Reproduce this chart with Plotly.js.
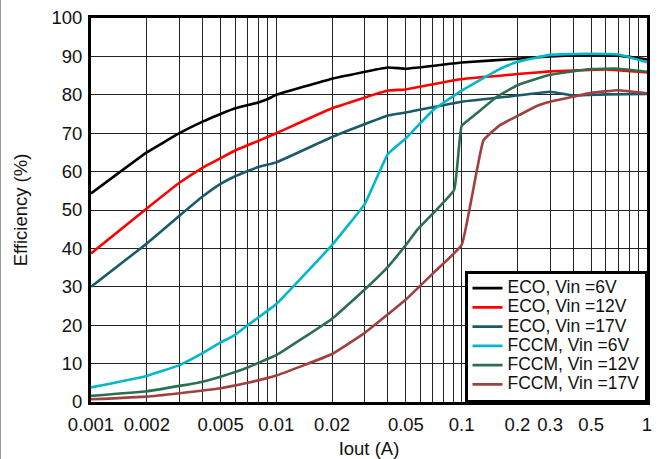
<!DOCTYPE html>
<html>
<head>
<meta charset="utf-8">
<script src="https://cdn.plot.ly/plotly-3.0.1.min.js"></script>
<style>
  html, body { margin: 0; padding: 0; background: #fff; }
  #chart { width: 663px; height: 459px; position: relative; }
  #edge { position: absolute; left: 0; top: 0; width: 1px; height: 459px; background: #999; }
</style>
</head>
<body>
<div id="chart"></div>
<div id="edge"></div>
<script>
// Output current (A)
var ecoV6_x  = [0.001, 0.002, 0.003, 0.004, 0.005, 0.006, 0.008, 0.009, 0.01, 0.02, 0.04, 0.05, 0.1, 0.2, 0.3, 0.5, 0.7, 1];
var ecoV6_y  = [54.3, 65, 70, 73, 75, 76.5, 78, 78.9, 80, 84.2, 87.1, 86.8, 88.4, 89.4, 90, 90.4, 90.2, 89.2];

var ecoV12_x = [0.001, 0.002, 0.003, 0.004, 0.005, 0.006, 0.008, 0.01, 0.02, 0.04, 0.05, 0.1, 0.2, 0.3, 0.6, 1];
var ecoV12_y = [38.7, 50.4, 57.1, 61, 63.5, 65.5, 68, 70, 76.5, 81.1, 81.4, 84.1, 85.4, 86.1, 86.6, 85.8];

var ecoV17_x = [0.001, 0.002, 0.003, 0.004, 0.005, 0.006, 0.008, 0.01, 0.02, 0.04, 0.05, 0.1, 0.2, 0.3, 0.4, 0.6, 1];
var ecoV17_y = [30, 41.3, 48.5, 53.5, 56.8, 58.8, 61.2, 62.4, 69, 74.6, 75.4, 78.2, 79.8, 80.8, 79.8, 80.1, 80.2];

var fccmV6_x = [0.001, 0.002, 0.003, 0.004, 0.005, 0.006, 0.007, 0.008, 0.01, 0.02, 0.03, 0.04, 0.05, 0.07, 0.1, 0.16, 0.2, 0.3, 0.47, 0.7, 1];
var fccmV6_y = [3.8, 6.8, 9.6, 12.7, 15.5, 17.5, 20, 22, 25.5, 40.9, 51.6, 64.6, 68.7, 76, 81.1, 86.7, 88.6, 90.4, 90.7, 90.5, 88.5];

var fccmV12_x = [0.001, 0.002, 0.003, 0.004, 0.005, 0.006, 0.007, 0.008, 0.01, 0.02, 0.03, 0.04, 0.05, 0.058, 0.091, 0.1, 0.12, 0.155, 0.2, 0.3, 0.5, 0.7, 1];
var fccmV12_y = [1.6, 2.8, 4.2, 5.3, 6.6, 7.8, 9, 10.2, 12.2, 21.7, 29.3, 35.2, 40.9, 45, 55.2, 71.9, 75.1, 79.5, 82.5, 85.2, 86.7, 86.8, 86];

var fccmV17_x = [0.001, 0.002, 0.003, 0.005, 0.007, 0.01, 0.02, 0.03, 0.05, 0.07, 0.1, 0.131, 0.161, 0.204, 0.254, 0.3, 0.5, 0.7, 1];
var fccmV17_y = [0.7, 1.4, 2.3, 3.6, 5.0, 6.9, 12.5, 18, 26.7, 33.5, 40.9, 68.1, 72.1, 74.7, 77.1, 78.2, 80.5, 81.2, 80.4];

var seriesNames = ["ECO, Vin =6V", "ECO, Vin =12V", "ECO, Vin =17V", "FCCM, Vin =6V", "FCCM, Vin =12V", "FCCM, Vin =17V"];
var seriesColors = ["#000000", "#ff0000", "#1a5a6a", "#00b8cc", "#2e6e50", "#a04040"];

// x tick labels (shown) and gridline decades
var xTickLabels = ["0.001", "0.002", "0.005", "0.01", "0.02", "0.05", "0.1", "0.2", "0.3", "0.5", "1"];
var decades = [0.001, 0.01, 0.1];
var yTicks = [0, 10, 20, 30, 40, 50, 60, 70, 80, 90, 100];

var gridVals = [], gridText = [];
decades.forEach(function (d) {
  for (var m = 1; m <= 9; m++) {
    var v = +(d * m).toPrecision(3);
    gridVals.push(v);
    var s = String(v);
    gridText.push(xTickLabels.indexOf(s) >= 0 ? s : "");
  }
});
gridVals.push(1); gridText.push("1");

var xs = [ecoV6_x, ecoV12_x, ecoV17_x, fccmV6_x, fccmV12_x, fccmV17_x];
var ys = [ecoV6_y, ecoV12_y, ecoV17_y, fccmV6_y, fccmV12_y, fccmV17_y];
var traces = seriesNames.map(function (n, i) {
  return {
    x: xs[i], y: ys[i], type: "scatter", mode: "lines",
    name: '<span style="font-size:17.5px">' + n + '</span>',
    line: { color: seriesColors[i], width: 2.6, shape: "spline", smoothing: 0.3 }
  };
});

var font = "Liberation Sans, Arial, Helvetica, sans-serif";
var layout = {
  width: 663, height: 459,
  margin: { l: 91, r: 16, t: 18, b: 57, pad: 0 },
  paper_bgcolor: "#fff", plot_bgcolor: "#fff",
  font: { family: font, size: 18.5, color: "#111" },
  showlegend: true,
  legend: {
    x: 1, y: 0, xanchor: "right", yanchor: "bottom",
    bgcolor: "#fff", bordercolor: "#000", borderwidth: 2.5,
    font: { family: font, size: 12.5, color: "#111" },
    traceorder: "normal", itemwidth: 30
  },
  xaxis: {
    type: "log", range: [-3, 0],
    tickmode: "array", tickvals: gridVals, ticktext: gridText,
    showgrid: true, gridcolor: "#222", gridwidth: 1,
    showline: true, linecolor: "#000", linewidth: 3, mirror: true,
    ticks: "", zeroline: false, ticklabelstandoff: 4,
    tickfont: { family: font, size: 18.5, color: "#111" },
    title: { text: "Iout (A)", font: { family: font, size: 18.5, color: "#111" } }
  },
  yaxis: {
    range: [0, 100], tickmode: "array", tickvals: yTicks,
    showgrid: true, gridcolor: "#222", gridwidth: 1,
    showline: true, linecolor: "#000", linewidth: 3, mirror: true,
    ticks: "", zeroline: false, ticklabelstandoff: 2, automargin: "left",
    tickfont: { family: font, size: 18.5, color: "#111" },
    title: { text: "Efficiency (%)", font: { family: font, size: 18.5, color: "#111" }, standoff: 19 }
  }
};

Plotly.newPlot("chart", traces, layout, { staticPlot: true, displayModeBar: false });
</script>
</body>
</html>
